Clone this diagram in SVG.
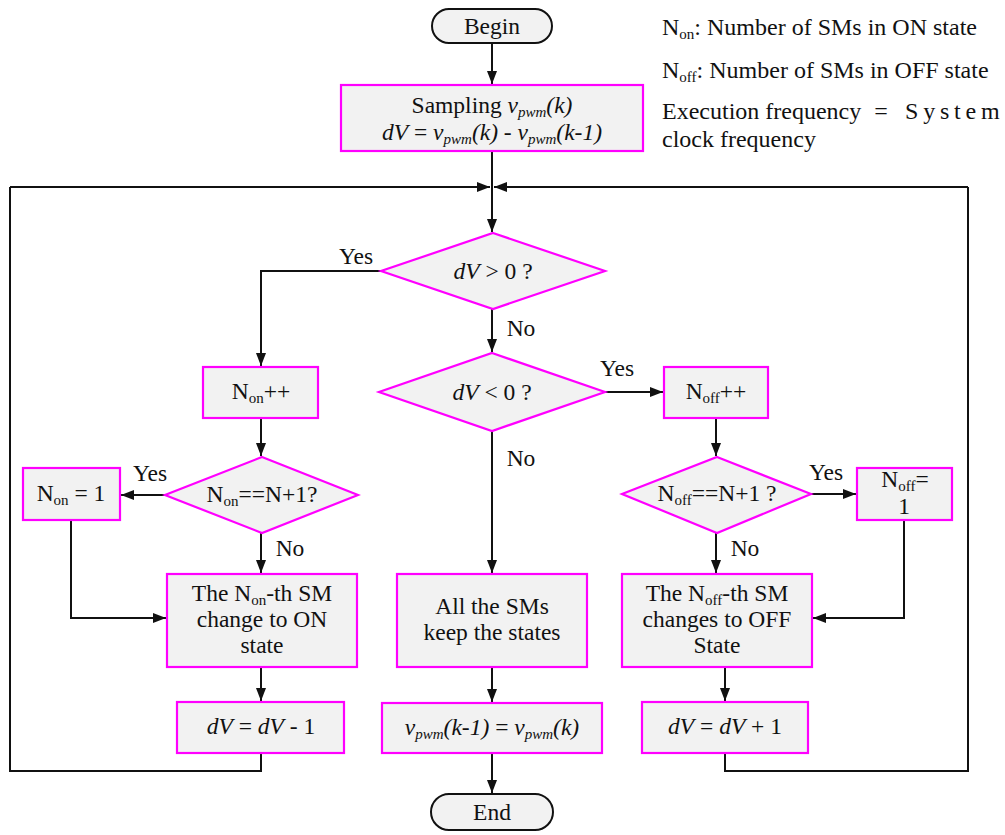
<svg xmlns="http://www.w3.org/2000/svg" width="1005" height="835" viewBox="0 0 1005 835">
<style>
text{font-family:"Liberation Serif","Times New Roman",serif;font-size:23.5px;fill:#111}
.c{text-anchor:middle}
.i{font-style:italic}
.lg{font-size:24px}
.box{fill:#f2f2f2;stroke:#ff00ff;stroke-width:2.2}
.pill{fill:#f2f2f2;stroke:#111;stroke-width:2}
.ln{fill:none;stroke:#111;stroke-width:2}
</style>
<defs>
<marker id="ah" markerUnits="userSpaceOnUse" markerWidth="14" markerHeight="12" refX="13" refY="5" orient="auto">
<path d="M0,0 L13,5 L0,10 z" fill="#111"/>
</marker>
</defs>
<rect width="1005" height="835" fill="#fff"/>

<g id="connectors">
<path class="ln" d="M492,43 V84" marker-end="url(#ah)"/>
<path class="ln" d="M492,151 V232" marker-end="url(#ah)"/>
<path class="ln" d="M10,187 H490" marker-end="url(#ah)"/>
<path class="ln" d="M968,187 H494" marker-end="url(#ah)"/>
<path class="ln" d="M381,271 H261 V366" marker-end="url(#ah)"/>
<path class="ln" d="M492,309 V352" marker-end="url(#ah)"/>
<path class="ln" d="M605,392 H663" marker-end="url(#ah)"/>
<path class="ln" d="M261,418 V456" marker-end="url(#ah)"/>
<path class="ln" d="M716,418 V456" marker-end="url(#ah)"/>
<path class="ln" d="M165,495 H121" marker-end="url(#ah)"/>
<path class="ln" d="M811,494 H856" marker-end="url(#ah)"/>
<path class="ln" d="M71,520 V618 H166" marker-end="url(#ah)"/>
<path class="ln" d="M904,520 V618 H813" marker-end="url(#ah)"/>
<path class="ln" d="M261,533 V573" marker-end="url(#ah)"/>
<path class="ln" d="M716,533 V573" marker-end="url(#ah)"/>
<path class="ln" d="M492,431 V573" marker-end="url(#ah)"/>
<path class="ln" d="M261,667 V701" marker-end="url(#ah)"/>
<path class="ln" d="M492,667 V702" marker-end="url(#ah)"/>
<path class="ln" d="M725,667 V701" marker-end="url(#ah)"/>
<path class="ln" d="M492,753 V793" marker-end="url(#ah)"/>
<path class="ln" d="M261,753 V771 H10 V187"/>
<path class="ln" d="M725,753 V771 H968 V187"/>
<text x="356" y="264" class="c">Yes</text>
<text x="521" y="336" class="c">No</text>
<text x="617" y="376" class="c">Yes</text>
<text x="521" y="466" class="c">No</text>
<text x="150" y="481" class="c">Yes</text>
<text x="826" y="480" class="c">Yes</text>
<text x="290" y="556" class="c">No</text>
<text x="745" y="556" class="c">No</text>
</g>

<g id="begin">
<rect class="pill" x="432" y="9" width="120" height="34" rx="17"/>
<text x="492" y="34" class="c">Begin</text>
</g>

<g id="sampling">
<rect class="box" x="341" y="85" width="302" height="66"/>
<text x="492" y="113" class="c">Sampling <tspan class="i">v<tspan font-size="15" dy="4">pwm</tspan><tspan dy="-4">(k)</tspan></tspan></text>
<text x="492" y="140" class="c"><tspan class="i">dV</tspan> = <tspan class="i">v<tspan font-size="15" dy="4">pwm</tspan><tspan dy="-4">(k)</tspan></tspan> - <tspan class="i">v<tspan font-size="15" dy="4">pwm</tspan><tspan dy="-4">(k-1)</tspan></tspan></text>
</g>

<g id="legend">
<text x="662" y="35" class="lg">N<tspan font-size="15" dy="4">on</tspan><tspan dy="-4">:  Number of SMs in ON state</tspan></text>
<text x="662" y="78" class="lg">N<tspan font-size="15" dy="4">off</tspan><tspan dy="-4">: Number of SMs in OFF state</tspan></text>
<text x="662" y="119" class="lg">Execution  frequency</text>
<text x="881" y="119" class="lg c">=</text>
<text x="905" y="119" class="lg" letter-spacing="4.8">System</text>
<text x="662" y="147" class="lg">clock frequency</text>
</g>

<g id="dv-gt-0">
<polygon class="box" points="493,233 605,271 493,309 381,271"/>
<text x="493" y="279" class="c"><tspan class="i">dV</tspan> &gt; 0 ?</text>
</g>

<g id="dv-lt-0">
<polygon class="box" points="492,353 605,392 492,431 379,392"/>
<text x="492" y="400" class="c"><tspan class="i">dV</tspan> &lt; 0 ?</text>
</g>

<g id="non-inc">
<rect class="box" x="203" y="367" width="115" height="51"/>
<text x="261" y="399" class="c">N<tspan font-size="15" dy="4">on</tspan><tspan dy="-4">++</tspan></text>
</g>

<g id="noff-inc">
<rect class="box" x="664" y="367" width="104" height="51"/>
<text x="716" y="399" class="c">N<tspan font-size="15" dy="4">off</tspan><tspan dy="-4">++</tspan></text>
</g>

<g id="non-check">
<polygon class="box" points="262,457 358,495 262,533 165,495"/>
<text x="262" y="502" class="c">N<tspan font-size="15" dy="4">on</tspan><tspan dy="-4">==N+1?</tspan></text>
</g>

<g id="noff-check">
<polygon class="box" points="717,457 811,494 717,533 622,494"/>
<text x="717" y="501" class="c">N<tspan font-size="15" dy="4">off</tspan><tspan dy="-4">==N+1 ?</tspan></text>
</g>

<g id="non-reset">
<rect class="box" x="23" y="468" width="97" height="52"/>
<text x="71" y="501" class="c">N<tspan font-size="15" dy="4">on</tspan><tspan dy="-4"> = 1</tspan></text>
</g>

<g id="noff-reset">
<rect class="box" x="857" y="468" width="95" height="52"/>
<text x="905" y="487" class="c">N<tspan font-size="15" dy="4">off</tspan><tspan dy="-4">=</tspan></text>
<text x="904" y="514" class="c">1</text>
</g>

<g id="on-change">
<rect class="box" x="167" y="574" width="190" height="93"/>
<text x="262" y="601" class="c">The N<tspan font-size="15" dy="4">on</tspan><tspan dy="-4">-th SM</tspan></text>
<text x="262" y="627" class="c">change to ON</text>
<text x="262" y="653" class="c">state</text>
</g>

<g id="keep">
<rect class="box" x="397" y="574" width="190" height="93"/>
<text x="492" y="614" class="c">All the SMs</text>
<text x="492" y="640" class="c">keep the states</text>
</g>

<g id="off-change">
<rect class="box" x="622" y="574" width="190" height="93"/>
<text x="717" y="601" class="c">The N<tspan font-size="15" dy="4">off</tspan><tspan dy="-4">-th SM</tspan></text>
<text x="717" y="627" class="c">changes to OFF</text>
<text x="717" y="653" class="c">State</text>
</g>

<g id="dec">
<rect class="box" x="177" y="702" width="167" height="51"/>
<text x="261" y="734" class="c"><tspan class="i">dV</tspan> = <tspan class="i">dV</tspan> - 1</text>
</g>

<g id="update">
<rect class="box" x="382" y="703" width="220" height="50"/>
<text x="492" y="735" class="c"><tspan class="i">v<tspan font-size="15" dy="4">pwm</tspan><tspan dy="-4">(k-1)</tspan></tspan> = <tspan class="i">v<tspan font-size="15" dy="4">pwm</tspan><tspan dy="-4">(k)</tspan></tspan></text>
</g>

<g id="inc">
<rect class="box" x="642" y="702" width="166" height="51"/>
<text x="725" y="734" class="c"><tspan class="i">dV</tspan> = <tspan class="i">dV</tspan> + 1</text>
</g>

<g id="end">
<rect class="pill" x="431" y="794" width="122" height="36" rx="18"/>
<text x="492" y="820" class="c">End</text>
</g>
</svg>
